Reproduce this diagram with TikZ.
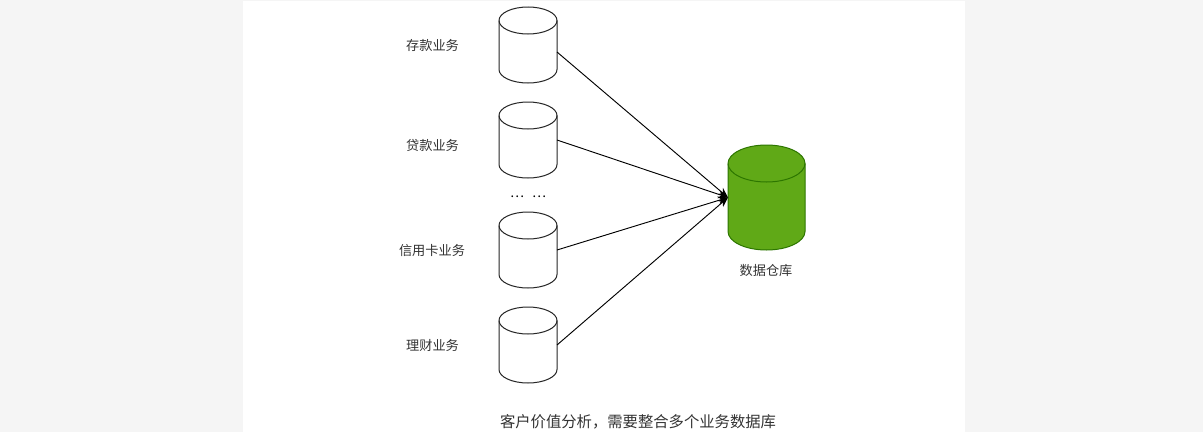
\documentclass[tikz,border=0pt]{standalone}
\usepackage{fontspec}
\setmainfont{Noto Sans CJK SC}
\usetikzlibrary{arrows.meta,calc}
\definecolor{pagegrey}{HTML}{F5F5F5}
\definecolor{labelgrey}{HTML}{333333}
\definecolor{dwfill}{HTML}{60A917}
\definecolor{dwline}{HTML}{2D7600}
\tikzset{
  lbl/.style={font=\fontsize{9.9pt}{12pt}\selectfont,text=labelgrey,inner sep=0pt},
  caption/.style={font=\fontsize{11.5pt}{14pt}\selectfont,text=labelgrey,inner sep=0pt},
  dbbox/.style={inner sep=0pt,outer sep=0pt,minimum width=58*0.75pt,minimum height=76*0.75pt},
  dwbox/.style={inner sep=0pt,outer sep=0pt,minimum width=77*0.75pt,minimum height=105*0.75pt},
  link/.style={draw=black,line width=0.7pt,-{Stealth[length=7.5pt,width=6pt]}},
  dbline/.style={draw=black!85,line width=0.75pt,fill=white},
  dwshape/.style={draw=dwline,line width=0.75pt,fill=dwfill}
}
\begin{document}
\begin{tikzpicture}[x=0.75pt,y=-0.75pt]
\useasboundingbox (0,0) rectangle (1203,432);
\fill[pagegrey] (0,0) rectangle (1203,432);
\fill[white] (243,1) rectangle (965,432);

\node[dbbox] (a) at (528,45) {};
\node[dbbox] (b) at (528,140) {};
\node[dbbox] (c) at (528,250) {};
\node[dbbox] (d) at (528,345) {};
\node[dwbox] (w) at (766.5,197.5) {};

\foreach \n in {a,b,c,d}{
  \path[dbline]
    ($(\n.north west)+(0,13.5)$)
    arc[start angle=180,end angle=0,x radius=29,y radius=-13.5]
    -- ($(\n.south east)+(0,-13.5)$)
    arc[start angle=0,end angle=-180,x radius=29,y radius=-13.5]
    -- cycle;
  \draw[dbline,fill=none]
    ($(\n.north west)+(0,13.5)$)
    arc[start angle=180,end angle=0,x radius=29,y radius=13.5];
}
\path[dwshape]
  ($(w.north west)+(0,18.5)$)
  arc[start angle=180,end angle=0,x radius=38.5,y radius=-18.5]
  -- ($(w.south east)+(0,-18.5)$)
  arc[start angle=0,end angle=-180,x radius=38.5,y radius=-18.5]
  -- cycle;
\draw[dwshape,fill=none]
  ($(w.north west)+(0,18.5)$)
  arc[start angle=180,end angle=0,x radius=38.5,y radius=18.5];

\draw[link] ($(a.east)+(0,7)$) -- (w.west);
\draw[link] (b.east) -- (w.west);
\draw[link] (c.east) -- (w.west);
\draw[link] (d.east) -- (w.west);

\node[lbl] (la) at (432.5,45.5) {存款业务};
\node[lbl] (lb) at (432.5,145.5) {贷款业务};
\node[lbl] (lc) at (432,250.5) {信用卡业务};
\node[lbl] (ld) at (432.5,345.5) {理财业务};
\node[lbl] (lw) at (766,270.5) {数据仓库};
\node[lbl,text=black] (dots) at (528,197) {…\hspace{6pt}…};
\node[caption] (cap) at (638,421.5) {客户价值分析，需要整合多个业务数据库};
\end{tikzpicture}
\end{document}
